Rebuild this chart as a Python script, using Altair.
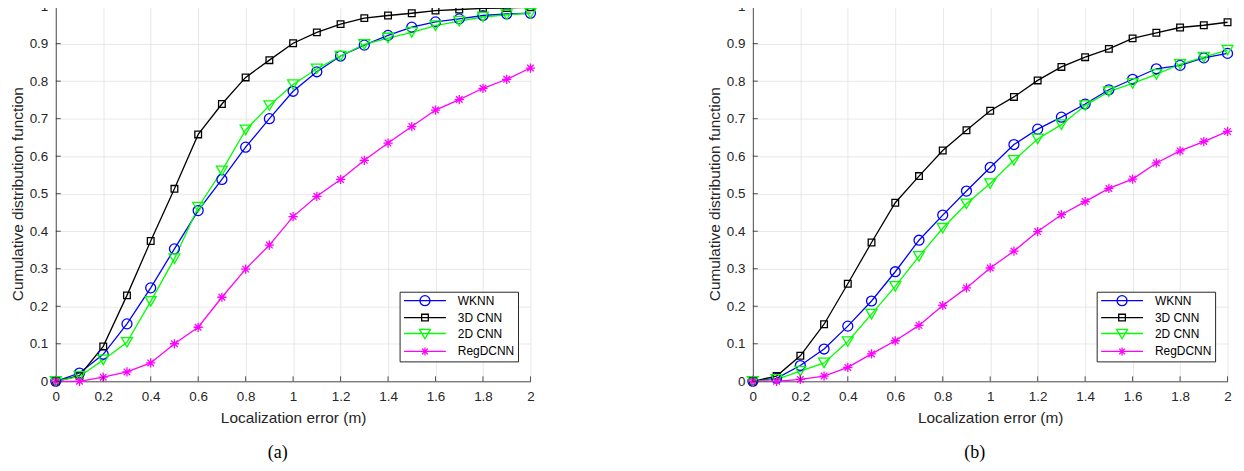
import altair as alt
import pandas as pd

# ---------------- data ----------------
error_m = [0.0, 0.1, 0.2, 0.3, 0.4, 0.5, 0.6, 0.7, 0.8, 0.9, 1.0,
           1.1, 1.2, 1.3, 1.4, 1.5, 1.6, 1.7, 1.8, 1.9, 2.0]
series = ["WKNN", "3D CNN", "2D CNN", "RegDCNN"]

# panel (a)
a_wknn = [0, 0.022, 0.072, 0.153, 0.249, 0.353, 0.455, 0.538, 0.624, 0.700, 0.773,
          0.825, 0.867, 0.896, 0.922, 0.944, 0.958, 0.966, 0.975, 0.979, 0.981]
a_3dcnn = [0, 0.015, 0.093, 0.229, 0.374, 0.513, 0.658, 0.739, 0.810, 0.856, 0.901,
           0.930, 0.952, 0.968, 0.975, 0.981, 0.988, 0.991, 0.994, 0.995, 0.997]
a_2dcnn = [0, 0.013, 0.057, 0.104, 0.213, 0.327, 0.464, 0.561, 0.670, 0.735, 0.791,
           0.833, 0.867, 0.898, 0.915, 0.930, 0.948, 0.960, 0.971, 0.977, 0.981]
a_regdcnn = [0, 0.0, 0.011, 0.025, 0.049, 0.100, 0.144, 0.224, 0.299, 0.363, 0.439,
             0.493, 0.538, 0.589, 0.635, 0.679, 0.723, 0.751, 0.781, 0.805, 0.835]

# panel (b)
b_wknn = [0, 0.008, 0.042, 0.086, 0.147, 0.214, 0.292, 0.376, 0.443, 0.507, 0.570,
          0.631, 0.672, 0.704, 0.739, 0.777, 0.805, 0.833, 0.842, 0.862, 0.874]
b_3dcnn = [0, 0.014, 0.068, 0.152, 0.260, 0.370, 0.476, 0.547, 0.615, 0.669, 0.721,
           0.758, 0.802, 0.838, 0.864, 0.886, 0.914, 0.929, 0.943, 0.949, 0.957]
b_2dcnn = [0, 0.005, 0.027, 0.049, 0.106, 0.179, 0.253, 0.333, 0.408, 0.473, 0.527,
           0.589, 0.646, 0.684, 0.735, 0.772, 0.794, 0.818, 0.845, 0.864, 0.883]
b_regdcnn = [0, 0.0, 0.005, 0.014, 0.037, 0.073, 0.108, 0.149, 0.202, 0.249, 0.302,
             0.347, 0.399, 0.444, 0.479, 0.514, 0.539, 0.582, 0.614, 0.639, 0.666]

x_ticks = [0.0, 0.2, 0.4, 0.6, 0.8, 1.0, 1.2, 1.4, 1.6, 1.8, 2.0]
y_ticks = [0.0, 0.1, 0.2, 0.3, 0.4, 0.5, 0.6, 0.7, 0.8, 0.9, 1.0]

# ---------------- styles ----------------
colors = ["#0000ff", "#000000", "#00ff00", "#ff00ff"]
ASTER = "M-1,0H1M0,-1V1M-0.71,-0.71L0.71,0.71M-0.71,0.71L0.71,-0.71"
marker_shape = {"WKNN": "circle", "3D CNN": "square", "2D CNN": "triangle-down", "RegDCNN": ASTER}
marker_size = {"WKNN": 100, "3D CNN": 45, "2D CNN": 121, "RegDCNN": 86}

LINE = "M-4.2,0H4.2"
leg_paths = {
    "WKNN": LINE + "M-1,0A1,1 0 1,1 1,0A1,1 0 1,1 -1,0",
    "3D CNN": LINE + "M-0.67,-0.67H0.67V0.67H-0.67Z",
    "2D CNN": LINE + "M-1.1,-0.85H1.1L0,1.05Z",
    "RegDCNN": LINE + "M-0.8,0H0.8M0,-0.8V0.8M-0.57,-0.57L0.57,0.57M-0.57,0.57L0.57,-0.57",
}
shape_expr = " : ".join(
    f"datum.value === '{k}' ? '{v}'" for k, v in list(leg_paths.items())[:-1]
) + f" : '{leg_paths['RegDCNN']}'"

W, H = 477, 377
AXC = "#262626"


def make_df(vals):
    rows = []
    for name, ys in zip(series, vals):
        for x, y in zip(error_m, ys):
            rows.append({"x": x, "y": y, "series": name,
                         "shape": marker_shape[name], "msize": marker_size[name]})
    return pd.DataFrame(rows)


def panel(vals, label):
    df = make_df(vals)
    xenc = alt.X("x:Q", scale=alt.Scale(domain=[0, 2], nice=False),
                 axis=alt.Axis(values=x_ticks, format=".1~f", title="Localization error (m)",
                               labelPadding=8.5, titlePadding=7.5, labelFlush=False))
    yenc = alt.Y("y:Q", scale=alt.Scale(domain=[0, 1], nice=False),
                 axis=alt.Axis(values=y_ticks, format=".1~f",
                               title="Cumulative distribution function",
                               labelPadding=8, titlePadding=4, labelFlush=False))
    cenc = alt.Color("series:N", scale=alt.Scale(domain=series, range=colors),
                     legend=alt.Legend(
                         title=None, orient="none", legendX=345.5, legendY=287,
                         fillColor="white", strokeColor=AXC, padding=3,
                         labelFont="Liberation Sans", labelFontSize=12, labelColor="black",
                         labelAlign="left",
                         rowPadding=3, symbolSize=100, symbolStrokeWidth=1.3,
                         symbolOffset=16.5, labelOffset=27,
                         symbolFillColor="transparent",
                         symbolType=alt.ExprRef(expr=shape_expr)))
    base = alt.Chart(df).encode(x=xenc, y=yenc, color=cenc)
    lines = base.mark_line(strokeWidth=1.3)
    points = base.mark_point(filled=False, strokeWidth=1.3, opacity=1).encode(
        shape=alt.Shape("shape:N", scale=None),
        size=alt.Size("msize:Q", scale=None),
    )
    xt = alt.Chart(pd.DataFrame({"x": x_ticks})).mark_rule(color=AXC, strokeWidth=0.8).encode(
        x=xenc, y=alt.value(H), y2=alt.value(H - 5))
    yt = alt.Chart(pd.DataFrame({"y": y_ticks})).mark_rule(color=AXC, strokeWidth=0.8).encode(
        y=yenc, x=alt.value(0), x2=alt.value(5))
    return alt.layer(lines, points, xt, yt).properties(
        width=W, height=H,
        title=alt.TitleParams(label, orient="bottom", font="Liberation Serif", fontSize=18,
                              fontWeight="normal", color="black", offset=18, dx=-15.5,
                              anchor="middle", frame="group"))


chart = alt.hconcat(panel([a_wknn, a_3dcnn, a_2dcnn, a_regdcnn], "(a)"),
                    panel([b_wknn, b_3dcnn, b_2dcnn, b_regdcnn], "(b)"),
                    spacing=168.5).resolve_scale(color="independent").properties(
    padding={"left": 2, "top": -10, "right": 0, "bottom": 0}
).configure_view(stroke=None).configure_axis(
    domainColor=AXC, domainWidth=0.8, gridColor="#e2e2e2", gridWidth=0.8,
    ticks=False, labelFont="Liberation Sans", labelFontSize=13.5, labelColor=AXC,
    titleFont="Liberation Sans", titleFontSize=15.5, titleFontWeight="normal", titleColor=AXC,
)

chart.save("out.html", embed_options={"renderer": "svg", "actions": False})
